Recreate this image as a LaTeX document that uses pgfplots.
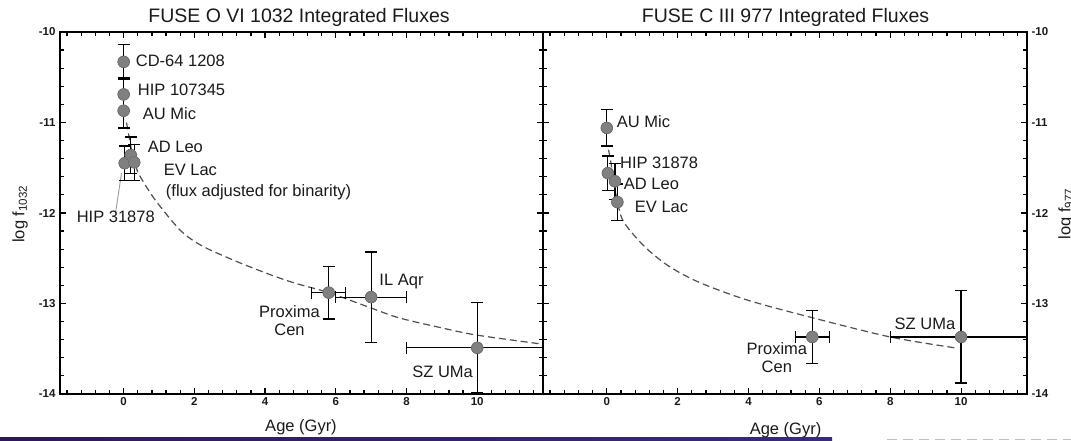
\documentclass[border=0pt]{standalone}
\usepackage{pgfplots}
\pgfplotsset{compat=1.18}
\usepackage{pgfplotstable}
\usepackage{fontspec}
\setmainfont{Liberation Sans}

\definecolor{markgray}{HTML}{808080}
\definecolor{markedge}{HTML}{6C6C6C}
\definecolor{curvegray}{HTML}{505050}
\definecolor{leadgray}{HTML}{9A9A9A}
\definecolor{txt}{HTML}{1A1A1A}
\definecolor{bandpurple}{HTML}{2E1A52}
\definecolor{bandblue}{HTML}{3A2A78}

% O VI 1032: stars with flux errors only
\pgfplotstableread{
x     y       ey
0.00  -10.33  0.19
0.00  -10.69  0.19
0.00  -10.87  0.19
0.03  -11.45  0.19
0.20  -11.36  0.20
0.30  -11.44  0.20
}\oviyoung
% O VI 1032: stars with age and flux errors
\pgfplotstableread{
x     y       ex    ey
5.80  -12.88  0.48  0.29
7.00  -12.93  1.00  0.50
10.0  -13.49  2.00  0.50
}\oviold
% C III 977
\pgfplotstableread{
x     y       ey
0.00  -11.06  0.20
0.03  -11.56  0.19
0.23  -11.65  0.20
0.30  -11.88  0.20
}\ciiiyoung
\pgfplotstableread{
x     y       ex    ey
5.80  -13.37  0.48  0.29
10.0  -13.37  2.00  0.51
}\ciiiold

\tikzset{
  starlabel/.style={font=\fontsize{16.5}{18}\selectfont, text=txt, inner sep=0pt},
  paneltitle/.style={font=\fontsize{19.5}{22}\selectfont, text=txt, inner sep=0pt},
  axlabel/.style={font=\fontsize{16.5}{18}\selectfont, text=txt, inner sep=0pt},
}

\pgfplotsset{
  fusepanel/.style={
    scale only axis, width=483pt, height=362pt,
    xmin=-1.8, xmax=11.86, ymin=-14, ymax=-10,
    xtick={0,2,...,10}, ytick={-14,-13,...,-10},
    minor xtick={-1.6,-1.2,...,11.6},
    minor ytick={-13.8,-13.6,...,-10.2},
    tick align=inside,
    major tick length=6pt, minor tick length=4pt,
    every tick/.style={black, line width=1.2pt},
    axis line style={line width=1.4pt},
    ticklabel style={font=\bfseries\fontsize{11.5}{12}\selectfont, text=txt},
    /pgf/number format/assume math mode=true,
  },
  yerr/.style={only marks, mark=*, mark size=5.8pt,
    mark options={fill=markgray, draw=markedge, line width=0.6pt},
    error bars/.cd, y dir=both, y explicit,
    error bar style={black, line width=1.3pt},
    error mark options={rotate=90, black, mark size=6pt, line width=1.3pt}},
  xyerr/.style={only marks, mark=*, mark size=5.8pt,
    mark options={fill=markgray, draw=markedge, line width=0.6pt},
    error bars/.cd, x dir=both, x explicit, y dir=both, y explicit,
    error bar style={black, line width=1.3pt},
    error mark options={rotate=90, black, mark size=6pt, line width=1.3pt}},
  starmark/.style={only marks, mark=*, mark size=5.8pt,
    mark options={fill=markgray, draw=markedge, line width=0.6pt}},
  fitcurve/.style={curvegray, line width=1.2pt, dash pattern=on 7pt off 4pt, smooth, no marks},
}

\begin{document}
\begin{tikzpicture}

% ---------- left panel: O VI 1032 ----------
\begin{axis}[fusepanel, name=L, at={(0pt,0pt)}, anchor=south west,
    yticklabel style={xshift=-1pt}]
  \addplot[fitcurve] coordinates {
    (0.08,-11.00) (0.15,-11.15) (0.25,-11.35) (0.40,-11.55) (0.50,-11.62)
    (0.90,-11.86) (1.60,-12.19) (2.20,-12.36) (3.10,-12.52) (4.00,-12.66)
    (4.80,-12.77) (5.80,-12.88) (7.00,-13.05) (7.80,-13.16) (9.00,-13.27)
    (10.0,-13.35) (11.86,-13.45)};
  \addplot[leadgray, line width=0.9pt, no marks] coordinates {(-0.23,-12.00) (-0.06,-11.56)};
  \addplot[yerr] table[x=x, y=y, y error=ey] {\oviyoung};
  \addplot[xyerr] table[x=x, y=y, x error=ex, y error=ey] {\oviold};
  \addplot[starmark] table[x=x, y=y] {\oviyoung};
  \addplot[starmark] table[x=x, y=y] {\oviold};
  \node[starlabel, anchor=west] at (axis cs:0.34,-10.32) {CD-64 1208};
  \node[starlabel, anchor=west] at (axis cs:0.40,-10.64) {HIP 107345};
  \node[starlabel, anchor=west] at (axis cs:0.54,-10.90) {AU Mic};
  \node[starlabel, anchor=west] at (axis cs:0.68,-11.27) {AD Leo};
  \node[starlabel, anchor=west] at (axis cs:1.13,-11.52) {EV Lac};
  \node[starlabel, anchor=west] at (axis cs:1.19,-11.77) {(flux adjusted for binarity)};
  \node[starlabel, anchor=west] at (axis cs:-1.33,-12.04) {HIP 31878};
  \node[starlabel, align=center] at (axis cs:4.69,-13.19) {Proxima\\Cen};
  \node[starlabel, anchor=west] at (axis cs:7.23,-12.76) {IL Aqr};
  \node[starlabel, anchor=west] at (axis cs:8.16,-13.76) {SZ UMa};
\end{axis}

% ---------- right panel: C III 977 ----------
\begin{axis}[fusepanel, name=R, at={(483pt,0pt)}, anchor=south west, width=484pt,
    yticklabel pos=right,
    yticklabel style={xshift=1pt}]
  \addplot[fitcurve] coordinates {
    (0.05,-11.30) (0.12,-11.45) (0.20,-11.65) (0.30,-11.88) (0.45,-12.08)
    (0.80,-12.26) (1.20,-12.42) (1.80,-12.60) (2.63,-12.77) (3.95,-12.96)
    (5.73,-13.15) (8.00,-13.37) (9.83,-13.49)};
  \addplot[black, line width=1.2pt, no marks] coordinates {(0.11,-11.45) (0.36,-11.45)};
  \addplot[yerr] table[x=x, y=y, y error=ey] {\ciiiyoung};
  \addplot[xyerr] table[x=x, y=y, x error=ex, y error=ey] {\ciiiold};
  \addplot[starmark] table[x=x, y=y] {\ciiiyoung};
  \addplot[starmark] table[x=x, y=y] {\ciiiold};
  \node[starlabel, anchor=west] at (axis cs:0.28,-10.99) {AU Mic};
  \node[starlabel, anchor=west] at (axis cs:0.37,-11.45) {HIP 31878};
  \node[starlabel, anchor=west] at (axis cs:0.48,-11.68) {AD Leo};
  \node[starlabel, anchor=west] at (axis cs:0.79,-11.93) {EV Lac};
  \node[starlabel, align=center] at (axis cs:4.80,-13.60) {Proxima\\Cen};
  \node[starlabel] at (axis cs:8.98,-13.23) {SZ UMa};
\end{axis}

% titles and axis labels, placed from the lower left corner of the left panel
\node[paneltitle] at ([shift={(239pt,377pt)}]L.south west) {FUSE O VI 1032 Integrated Fluxes};
\node[paneltitle] at ([shift={(725.5pt,377pt)}]L.south west) {FUSE C III 977 Integrated Fluxes};
\node[axlabel] at ([shift={(241pt,-33pt)}]L.south west) {Age (Gyr)};
\node[axlabel] at ([shift={(725.5pt,-36pt)}]L.south west) {Age (Gyr)};
\node[axlabel, rotate=90] at ([shift={(-40pt,180pt)}]L.south west) {log f\textsubscript{1032}};
\node[axlabel, rotate=90] at ([shift={(1006pt,180pt)}]L.south west) {log f\textsubscript{977}};

% strip along the lower edge of the sheet
\shade[left color=bandpurple, right color=bandblue]
  ([shift={(-60pt,-47pt)}]L.south west) rectangle ++(832pt,3pt);
\draw[gray!50, line width=1pt, dash pattern=on 10pt off 6pt]
  ([shift={(827pt,-46pt)}]L.south west) -- ++(184pt,0pt);

% sheet: 1071pt x 441pt around the two panels
\pgfresetboundingbox
\path[use as bounding box] ([shift={(-60pt,-47pt)}]L.south west) rectangle ++(1071pt,441pt);
\end{tikzpicture}
\end{document}
